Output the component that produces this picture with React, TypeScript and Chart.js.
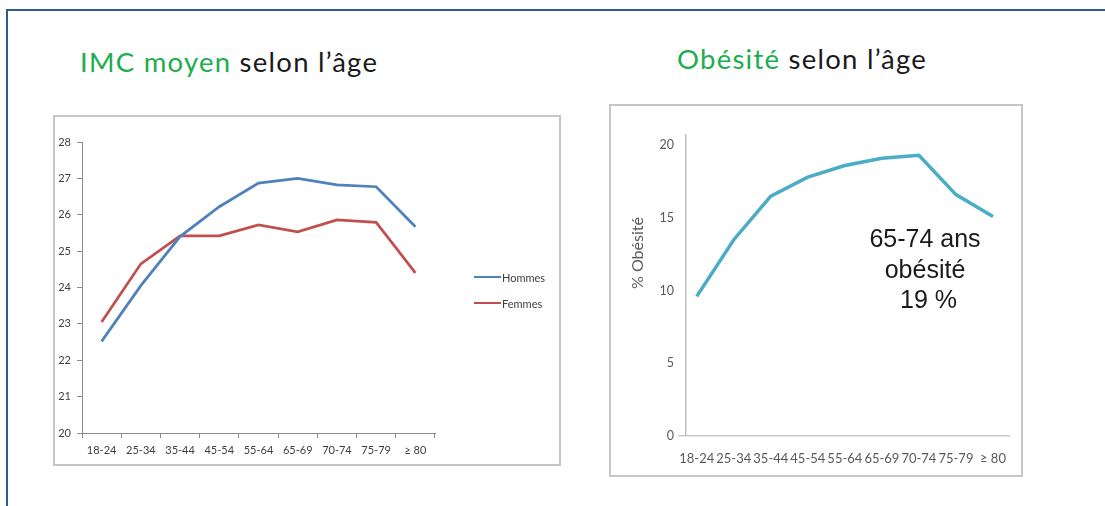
import React, { useEffect, useRef } from "react";
import { Chart, registerables } from "chart.js";

Chart.register(...registerables);

// ---- Data ----
const ageGroups = ["18-24", "25-34", "35-44", "45-54", "55-64", "65-69", "70-74", "75-79", "≥ 80"];
const hommesIMC = [22.52, 24.05, 25.4, 26.22, 26.87, 27.0, 26.82, 26.77, 25.67];
const femmesIMC = [23.05, 24.65, 25.42, 25.42, 25.72, 25.53, 25.86, 25.79, 24.4];
const imcRange = [20, 28];
const obesitePct = [9.6, 13.5, 16.5, 17.8, 18.6, 19.1, 19.3, 16.6, 15.1];
const obesiteRange = [0, 20];
const seriesNames = ["Hommes", "Femmes"];
const seriesColors = ["#4f81bd", "#c0504d"];
const obesiteColor = "#4bacc6";

const FONT = "Lato, 'Noto Sans', sans-serif";

function ImcChart() {
  const ref = useRef<HTMLCanvasElement | null>(null);
  useEffect(() => {
    if (!ref.current) return;
    const chart = new Chart(ref.current, {
      type: "line",
      data: {
        labels: ageGroups,
        datasets: [
          { label: seriesNames[0], data: hommesIMC, borderColor: seriesColors[0], backgroundColor: seriesColors[0], borderWidth: 2.75, pointRadius: 0, tension: 0 },
          { label: seriesNames[1], data: femmesIMC, borderColor: seriesColors[1], backgroundColor: seriesColors[1], borderWidth: 2.75, pointRadius: 0, tension: 0 },
        ],
      },
      options: {
        animation: false,
        responsive: true,
        maintainAspectRatio: false,
        layout: { padding: { left: 0, top: 25, right: 122, bottom: 0 } },
        plugins: { legend: { display: false }, tooltip: { enabled: false } },
        scales: {
          x: {
            type: "category",
            offset: true,
            grid: { display: true, drawOnChartArea: false, offset: true, tickLength: 5, color: "#8c8c8c", lineWidth: 1 },
            border: { color: "#8c8c8c", width: 1 },
            ticks: { font: { family: FONT, size: 11 }, color: "#404040", padding: 6, maxRotation: 0, autoSkip: false },
            afterFit: (s: any) => { s.height = 31; },
          },
          y: {
            min: imcRange[0],
            max: imcRange[1],
            grid: { drawOnChartArea: false, tickLength: 5, color: "#8c8c8c", lineWidth: 1 },
            border: { color: "#8c8c8c", width: 1 },
            ticks: { stepSize: 1, font: { family: FONT, size: 11 }, color: "#404040", padding: 6 },
            afterFit: (s: any) => { s.width = 27; },
          },
        },
      },
    });
    return () => chart.destroy();
  }, []);
  return (
    <div style={{ position: "absolute", left: 55, top: 117, width: 502, height: 347 }}>
      <canvas ref={ref} />
    </div>
  );
}

function ObesiteChart() {
  const ref = useRef<HTMLCanvasElement | null>(null);
  useEffect(() => {
    if (!ref.current) return;
    const chart = new Chart(ref.current, {
      type: "line",
      data: {
        datasets: [
          {
            label: "% Obésité",
            data: obesitePct.map((y, i) => ({ x: i, y })),
            borderColor: obesiteColor,
            backgroundColor: obesiteColor,
            borderWidth: 3.5,
            pointRadius: 0,
            tension: 0,
          },
        ],
      },
      options: {
        animation: false,
        responsive: true,
        maintainAspectRatio: false,
        layout: { padding: { left: 0, top: 29, right: 1, bottom: 0 } },
        plugins: { legend: { display: false }, tooltip: { enabled: false } },
        scales: {
          x: {
            type: "linear",
            min: -0.29,
            max: 8.47,
            grid: { display: false, drawTicks: false },
            border: { display: false },
            ticks: {
              stepSize: 1,
              includeBounds: false,
              autoSkip: false,
              maxRotation: 0,
              callback: (v: any) => ageGroups[v] ?? "",
              font: { family: FONT, size: 13 },
              color: "#595959",
              padding: 15,
            },
            afterFit: (s: any) => { s.height = 39; },
          },
          y: {
            min: obesiteRange[0],
            max: 20.7,
            grid: {
              color: (ctx: any) => (ctx.tick && ctx.tick.value === 0 ? "#c8c8c8" : "rgba(0,0,0,0)"),
              tickLength: 8,
              lineWidth: 1.5,
            },
            border: { color: "#c0c0c0", width: 1.5 },
            ticks: { stepSize: 5, includeBounds: false, font: { family: FONT, size: 12.5 }, color: "#595959", padding: 4 },
            afterFit: (s: any) => { s.width = 75; },
          },
        },
      },
    });
    return () => chart.destroy();
  }, []);
  return (
    <div style={{ position: "absolute", left: 611, top: 106, width: 410, height: 369 }}>
      <canvas ref={ref} />
    </div>
  );
}

const titleStyle: React.CSSProperties = {
  position: "absolute",
  fontFamily: FONT,
  fontSize: 27.5,
  lineHeight: "27.5px",
  letterSpacing: 1.25,
  whiteSpace: "nowrap",
  color: "#1a1a1a",
};
const green = "#20ad4e";

export default function App() {
  return (
    <div style={{ position: "absolute", left: 0, top: 0, width: 1105, height: 506, background: "#fff", overflow: "hidden" }}>
      <div style={{ position: "absolute", left: 6, top: 9, right: -10, bottom: -10, borderLeft: "2px solid #2e5b8f", borderTop: "2px solid #2e5b8f" }} />

      <div style={{ ...titleStyle, left: 80, top: 47.5 }}>
        <span style={{ color: green }}>IMC moyen</span> selon l’âge
      </div>
      <div style={{ ...titleStyle, left: 677, top: 44.5 }}>
        <span style={{ color: green }}>Obésité</span> selon l’âge
      </div>

      <div style={{ position: "absolute", left: 53, top: 115, width: 504, height: 347, border: "2px solid #c6c6c6" }} />
      <ImcChart />
      {seriesNames.map((n, i) => (
        <React.Fragment key={n}>
          <div style={{ position: "absolute", left: 474, top: 275.75 + i * 26, width: 27, height: 2.5, background: seriesColors[i] }} />
          <div style={{ position: "absolute", left: 502, top: 270.5 + i * 26, fontFamily: FONT, fontSize: 11, lineHeight: "13px", color: "#404040", whiteSpace: "nowrap" }}>{n}</div>
        </React.Fragment>
      ))}

      <div style={{ position: "absolute", left: 609, top: 104, width: 410, height: 369, border: "2px solid #c6c6c6" }} />
      <ObesiteChart />
      <div
        style={{
          position: "absolute",
          left: 637,
          top: 253,
          transform: "translate(-50%, -50%) rotate(-90deg)",
          fontFamily: FONT,
          fontSize: 16,
          lineHeight: "18px",
          color: "#595959",
          whiteSpace: "nowrap",
        }}
      >
        % Obésité
      </div>
      <div
        style={{
          position: "absolute",
          left: 825,
          top: 223,
          width: 200,
          textAlign: "center",
          fontFamily: "'Liberation Sans', Arial, sans-serif",
          fontSize: 25,
          lineHeight: "30.5px",
          color: "#1a1a1a",
        }}
      >
        <div>65-74 ans</div>
        <div>obésité</div>
        <div>{"\u00a019 %"}</div>
      </div>
    </div>
  );
}
